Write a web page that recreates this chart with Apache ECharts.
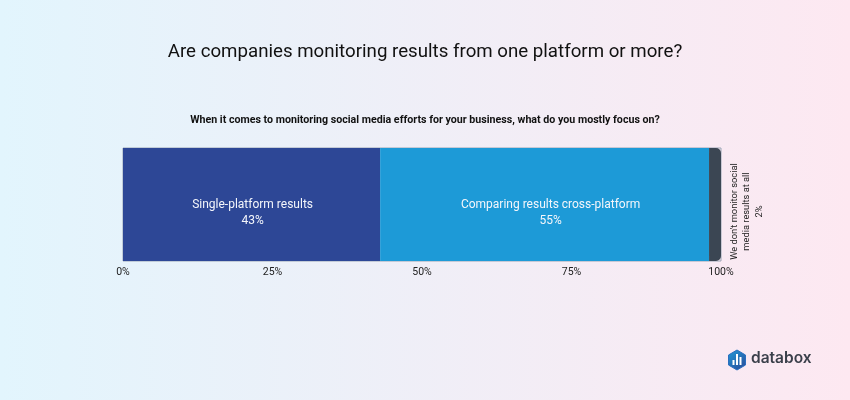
<!DOCTYPE html>
<html>
<head>
<meta charset="utf-8">
<style>
  html, body { margin: 0; padding: 0; }
  #chart { width: 850px; height: 400px; }
</style>
<script src="https://cdn.jsdelivr.net/npm/echarts@6/dist/echarts.min.js"></script>
</head>
<body>
<div id="chart"></div>
<script>
const titleText = "Are companies monitoring results from one platform or more?";
const subtitleText = "When it comes to monitoring social media efforts for your business, what do you mostly focus on?";
const categories = ["Focus"];
const seriesNames = [
  "Single-platform results",
  "Comparing results cross-platform",
  "We don't monitor social\nmedia results at all"
];
const seriesValues = [43, 55, 2];
const seriesColors = ["#2d4796", "#1d9ad7", "#3b4653"];
const labelOffsets = [[1, 8], [6, 8], [-7, 17]];
const tickValues = [0, 25, 50, 75, 100];

const chart = echarts.init(document.getElementById("chart"));

const series = seriesNames.map((name, i) => {
  const last = i === seriesNames.length - 1;
  return {
    name: name,
    type: "bar",
    stack: "total",
    barWidth: "100%",
    data: [seriesValues[i]],
    itemStyle: {
      color: seriesColors[i],
      borderRadius: last ? [0, 5, 5, 0] : 0
    },
    label: {
      show: true,
      position: last ? "right" : "inside",
      distance: last ? 9 : 0,
      rotate: last ? 90 : 0,
      align: "center",
      verticalAlign: "middle",
      offset: labelOffsets[i],
      color: last ? "#222" : "#f4f6fb",
      fontFamily: "Roboto",
      fontSize: last ? 9.3 : 12,
      lineHeight: last ? 12.5 : 16,
      formatter: name + "\n" + seriesValues[i] + "%"
    }
  };
});

chart.setOption({
  animation: false,
  backgroundColor: new echarts.graphic.LinearGradient(0, 0, 1, 0, [
    { offset: 0, color: "#e2f5fd" },
    { offset: 1, color: "#fde8f1" }
  ]),
  title: [
    {
      text: titleText,
      left: "center",
      top: 38,
      textStyle: { fontFamily: "Roboto", fontSize: 18.7, fontWeight: 400, color: "#111" }
    },
    {
      text: subtitleText,
      left: "center",
      top: 110,
      textStyle: { fontFamily: "Roboto", fontSize: 10.66, fontWeight: 700, color: "#111" }
    }
  ],
  grid: {
    left: 123,
    right: 129,
    top: 148,
    height: 113,
    show: true,
    borderColor: "#9aa5b5",
    borderWidth: 1,
    backgroundColor: "transparent"
  },
  xAxis: {
    type: "value",
    min: 0,
    max: 100,
    interval: 25,
    axisLine: { show: false },
    axisTick: { show: false },
    splitLine: { show: false },
    axisLabel: {
      color: "#222",
      fontFamily: "Roboto",
      fontSize: 10.5,
      margin: 6,
      formatter: v => tickValues.includes(v) ? v + "%" : ""
    }
  },
  yAxis: {
    type: "category",
    data: categories,
    axisLine: { show: false },
    axisTick: { show: false },
    axisLabel: { show: false }
  },
  series: series,
  graphic: [
    {
      type: "polygon",
      shape: { points: [[737, 350], [745.5, 355], [745.5, 365], [737, 370], [728.5, 365], [728.5, 355]] },
      style: {
        fill: new echarts.graphic.LinearGradient(0, 0, 1, 1, [
          { offset: 0, color: "#1f9bd9" },
          { offset: 1, color: "#2d4796" }
        ]),
        lineJoin: "round",
        stroke: "#2a6fc0",
        lineWidth: 1
      }
    },
    { type: "rect", shape: { x: 732.5, y: 360, width: 2, height: 5 }, style: { fill: "#fff" } },
    { type: "rect", shape: { x: 736, y: 354, width: 2, height: 11 }, style: { fill: "#fff" } },
    { type: "rect", shape: { x: 739.5, y: 357, width: 2, height: 8 }, style: { fill: "#fff" } },
    {
      type: "text",
      left: 751,
      top: 350,
      style: {
        text: "databox",
        fontFamily: "Inter",
        fontSize: 15.5,
        fontWeight: 600,
        fill: "#3a3f4a"
      }
    }
  ]
});
</script>
</body>
</html>
